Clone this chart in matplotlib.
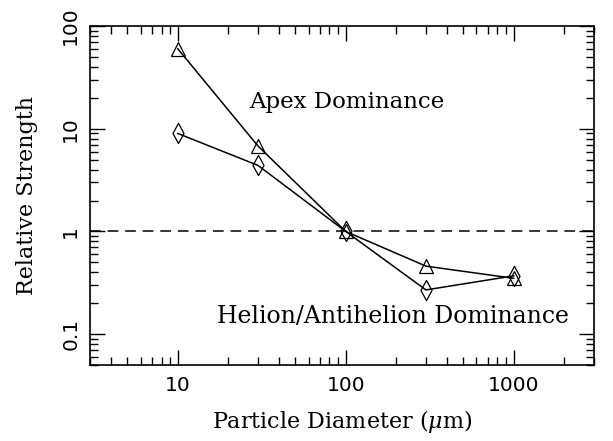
import matplotlib
matplotlib.use("Agg")
import matplotlib.pyplot as plt
import matplotlib.path as mpath
import matplotlib.ticker as ticker

# relative strength of the apex source versus helion/antihelion sources
diameter = [10, 30, 100, 300, 1000]
strength_tri = [60, 6.8, 1.0, 0.46, 0.35]
strength_dia = [9.0, 4.4, 1.0, 0.27, 0.37]

x_range = (3, 3000)
y_range = (0.05, 100)
x_ticks = [10, 100, 1000]
x_tick_labels = ["10", "100", "1000"]
y_ticks = [0.1, 1, 10, 100]
y_tick_labels = ["0.1", "1", "10", "100"]

serif = "DejaVu Serif"
plt.rcParams["mathtext.fontset"] = "dejavuserif"

# tall narrow diamond
diamond = mpath.Path([(0, -1), (0.55, 0), (0, 1), (-0.55, 0), (0, -1)],
                     [1, 2, 2, 2, 79])

fig = plt.figure(figsize=(6.13, 4.41), dpi=100)
ax = fig.add_axes([0.1468, 0.172, 0.822, 0.769])

ax.axhline(1.0, color="black", linestyle=(0, (7, 4.5)), linewidth=1.1)
ax.plot(diameter, strength_tri, color="black", linewidth=1.1, marker="^",
        markersize=10.5, markerfacecolor="none", markeredgewidth=0.9)
ax.plot(diameter, strength_dia, color="black", linewidth=1.1, marker=diamond,
        markersize=14.5, markerfacecolor="none", markeredgewidth=0.9)

ax.set_xscale("log")
ax.set_yscale("log")
ax.set_xlim(*x_range)
ax.set_ylim(*y_range)

ax.xaxis.set_major_locator(ticker.FixedLocator(x_ticks))
ax.xaxis.set_major_formatter(ticker.FixedFormatter(x_tick_labels))
ax.yaxis.set_major_locator(ticker.FixedLocator(y_ticks))
ax.yaxis.set_major_formatter(ticker.FixedFormatter(y_tick_labels))
ax.xaxis.set_minor_locator(ticker.LogLocator(base=10, subs=range(2, 10), numticks=20))
ax.yaxis.set_minor_locator(ticker.LogLocator(base=10, subs=range(2, 10), numticks=20))
ax.xaxis.set_minor_formatter(ticker.NullFormatter())
ax.yaxis.set_minor_formatter(ticker.NullFormatter())

ax.tick_params(which="both", direction="in", top=True, right=True, width=1.0)
ax.tick_params(which="major", length=10.5)
ax.tick_params(which="minor", length=5.5)
ax.tick_params(axis="x", labelsize=14.5, pad=8)
ax.tick_params(axis="y", labelsize=14.5, pad=7)
for lbl in ax.get_yticklabels():
    lbl.set_rotation(90)
    lbl.set_verticalalignment("center")
for sp in ax.spines.values():
    sp.set_linewidth(1.2)

ax.set_xlabel(r"Particle Diameter ($\mu$m)", family=serif, fontsize=16, labelpad=9)
ax.set_ylabel("Relative Strength", family=serif, fontsize=16, labelpad=17)

ax.text(0.509, 0.776, "Apex Dominance", transform=ax.transAxes, family=serif,
        fontsize=16.5, ha="center", va="center")
ax.text(0.601, 0.142, "Helion/Antihelion Dominance", transform=ax.transAxes,
        family=serif, fontsize=17, ha="center", va="center")

fig.savefig("out.png", dpi=100)
